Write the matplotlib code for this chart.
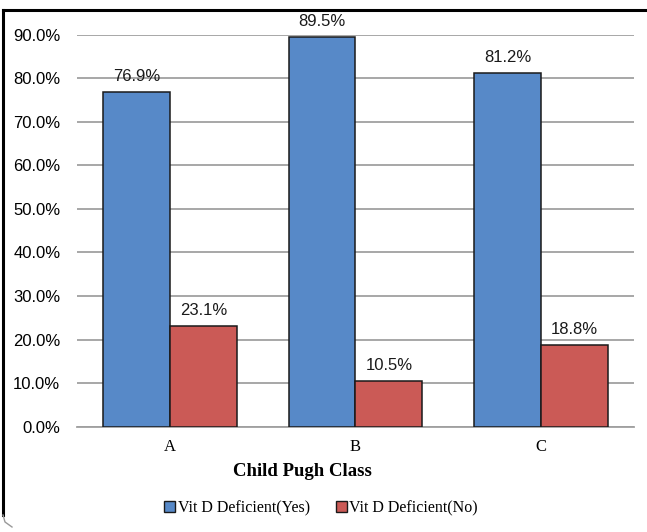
import matplotlib
matplotlib.use('Agg')
import matplotlib.pyplot as plt
import numpy as np
from matplotlib.lines import Line2D

classes = ['A', 'B', 'C']
deficient_yes = [76.9, 89.5, 81.2]
deficient_no = [23.1, 10.5, 18.8]
series_names = ['Vit D Deficient(Yes)', 'Vit D Deficient(No)']

blue = '#5789C8'
red = '#CB5A56'

fig = plt.figure(figsize=(6.47, 5.32), dpi=100)
ax = fig.add_axes([77/647, 1-426.7/532, 557/647, 392/532])

x = np.arange(len(classes))
w = 0.36
b1 = ax.bar(x - w/2, deficient_yes, w, color=blue, edgecolor='#1a1a1a', linewidth=1.1, zorder=3)
b2 = ax.bar(x + w/2, deficient_no, w, color=red, edgecolor='#1a1a1a', linewidth=1.1, zorder=3)

for bars, vals in ((b1, deficient_yes), (b2, deficient_no)):
    for r, v in zip(bars, vals):
        ax.text(r.get_x() + r.get_width()/2, v + 1.8, '%.1f%%' % v,
                ha='center', va='bottom', fontsize=12, family='Liberation Sans',
                color='#1a1a1a', zorder=4, clip_on=False)

ax.set_xlim(-0.5, 2.5)
ax.set_ylim(0, 90)
ax.set_yticks(np.arange(0, 91, 10))
ax.set_yticklabels(['%.1f%%' % t for t in np.arange(0, 91, 10)],
                   family='Liberation Sans', fontsize=12)
ax.set_xticks(x)
ax.set_xticklabels(classes, family='Liberation Serif', fontsize=12)
ax.tick_params(axis='y', length=0, pad=12)
ax.tick_params(axis='x', length=0, pad=9)
ax.grid(axis='y', color='#a0a0a0', linewidth=1.3, zorder=0)
for s in ('top', 'right', 'left'):
    ax.spines[s].set_visible(False)
ax.spines['bottom'].set_color('#a0a0a0')
ax.spines['bottom'].set_linewidth(1.3)

fig.text(302/647, 1-472/532, 'Child Pugh Class', ha='center', va='center',
         family='Liberation Serif', fontsize=13.5, fontweight='bold')

handles = [plt.Rectangle((0, 0), 1, 1, facecolor=blue, edgecolor='#1a1a1a'),
           plt.Rectangle((0, 0), 1, 1, facecolor=red, edgecolor='#1a1a1a')]
fig.legend(handles, series_names, loc='center', bbox_to_anchor=(321/647, 1-508/532),
           ncol=2, frameon=False, prop={'family': 'Liberation Serif', 'size': 11.5},
           handlelength=0.7, handleheight=0.7, handletextpad=0.15, columnspacing=1.6)

# outer frame: heavy top and left edges, soft corner at bottom left
fig.add_artist(Line2D([3/647, 1], [1-9.5/532, 1-9.5/532], color='black', linewidth=2.2))
fig.add_artist(Line2D([3/647, 3/647], [1-9.5/532, 1-515/532], color='black', linewidth=2.2))
fig.add_artist(Line2D([3/647, 5/647, 12/647], [1-515/532, 1-522/532, 1-527/532],
                      color='#999999', linewidth=1.0))

fig.savefig('out.png', dpi=100)
